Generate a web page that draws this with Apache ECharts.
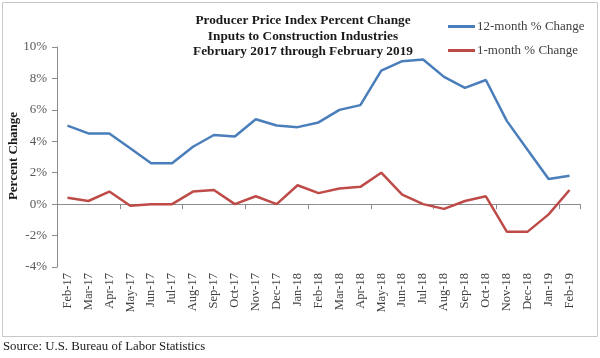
<!DOCTYPE html>
<html><head><meta charset="utf-8">
<script src="https://cdn.jsdelivr.net/npm/echarts@6/dist/echarts.min.js"></script>
<style>html,body{margin:0;padding:0;background:#fff}#c{width:600px;height:358px}</style>
</head><body><div id="c"></div>
<script>
const categories = ['Feb-17','Mar-17','Apr-17','May-17','Jun-17','Jul-17','Aug-17','Sep-17','Oct-17','Nov-17','Dec-17','Jan-18','Feb-18','Mar-18','Apr-18','May-18','Jun-18','Jul-18','Aug-18','Sep-18','Oct-18','Nov-18','Dec-18','Jan-19','Feb-19'];
const twelveMonth = [5.0,4.5,4.5,3.55,2.6,2.6,3.65,4.4,4.3,5.4,5.0,4.9,5.2,6.0,6.3,8.5,9.1,9.2,8.1,7.4,7.9,5.3,3.45,1.6,1.8];
const oneMonth = [0.4,0.2,0.8,-0.1,0.0,0.0,0.8,0.9,0.0,0.5,0.0,1.2,0.7,1.0,1.1,2.0,0.6,0.0,-0.3,0.2,0.5,-1.75,-1.75,-0.65,0.9];
const yTicks = [-4,-2,0,2,4,6,8,10];
const serif = '"Liberation Serif","DejaVu Serif",serif';
const chart = echarts.init(document.getElementById('c'));
chart.setOption({
  animation:false,
  backgroundColor:'#fff',
  title:{text:'Producer Price Index Percent Change\nInputs to Construction Industries\nFebruary 2017 through February 2019',
    left:298, top:8, textAlign:'center',
    textStyle:{fontFamily:serif,fontWeight:'bold',fontSize:13.3,color:'#1a1a1a',lineHeight:15.5}},
  legend:{orient:'vertical', left:443, top:15, itemGap:11, itemWidth:27, itemHeight:3,
    icon:'rect', textStyle:{fontFamily:serif,fontSize:13,color:'#404040',padding:[0,0,0,-3]},
    data:['12-month % Change','1-month % Change']},
  graphic:[
    {type:'rect',shape:{x:2.5,y:2.5,width:595,height:334},style:{fill:'none',stroke:'#c8c8c8',lineWidth:1},silent:true},
    {type:'text',left:3,top:340,style:{text:'Source: U.S. Bureau of Labor Statistics',font:'12.8px '+serif,fill:'#1a1a1a'}},
    {type:'text',x:14,y:156,rotation:Math.PI/2,
     style:{text:'Percent Change',font:'bold 13px '+serif,fill:'#1a1a1a',align:'center',verticalAlign:'middle'}}
  ],
  grid:{left:57,right:20,top:47,height:220,containLabel:false,outerBoundsMode:'none'},
  xAxis:[
    {type:'category',data:categories,boundaryGap:true,
     axisLine:{onZero:true,lineStyle:{color:'#8c8c8c',width:1}},
     axisTick:{show:true,inside:false,length:5,lineStyle:{color:'#8c8c8c'}},
     axisLabel:{show:false},splitLine:{show:false}},
    {type:'category',data:categories,position:'bottom',boundaryGap:true,
     axisLine:{show:false},axisTick:{show:false},
     axisLabel:{rotate:90,margin:6,fontFamily:serif,fontSize:12.5,color:'#404040'},splitLine:{show:false}}
  ],
  yAxis:{type:'value',min:-4,max:10,interval:2,
    axisLine:{show:true,lineStyle:{color:'#8c8c8c'}},
    axisTick:{show:true,length:5,lineStyle:{color:'#8c8c8c'}},
    axisLabel:{formatter:v=>yTicks.includes(v)?v+'%':'',fontFamily:serif,fontSize:13,color:'#595959',margin:10},
    splitLine:{show:false}},
  series:[
    {name:'12-month % Change',type:'line',xAxisIndex:0,data:twelveMonth,symbol:'none',
     lineStyle:{color:'#4a7ebb',width:2.5},itemStyle:{color:'#4a7ebb'}},
    {name:'1-month % Change',type:'line',xAxisIndex:0,data:oneMonth,symbol:'none',
     lineStyle:{color:'#be4b48',width:2.5},itemStyle:{color:'#be4b48'}}
  ]
});
</script></body></html>
